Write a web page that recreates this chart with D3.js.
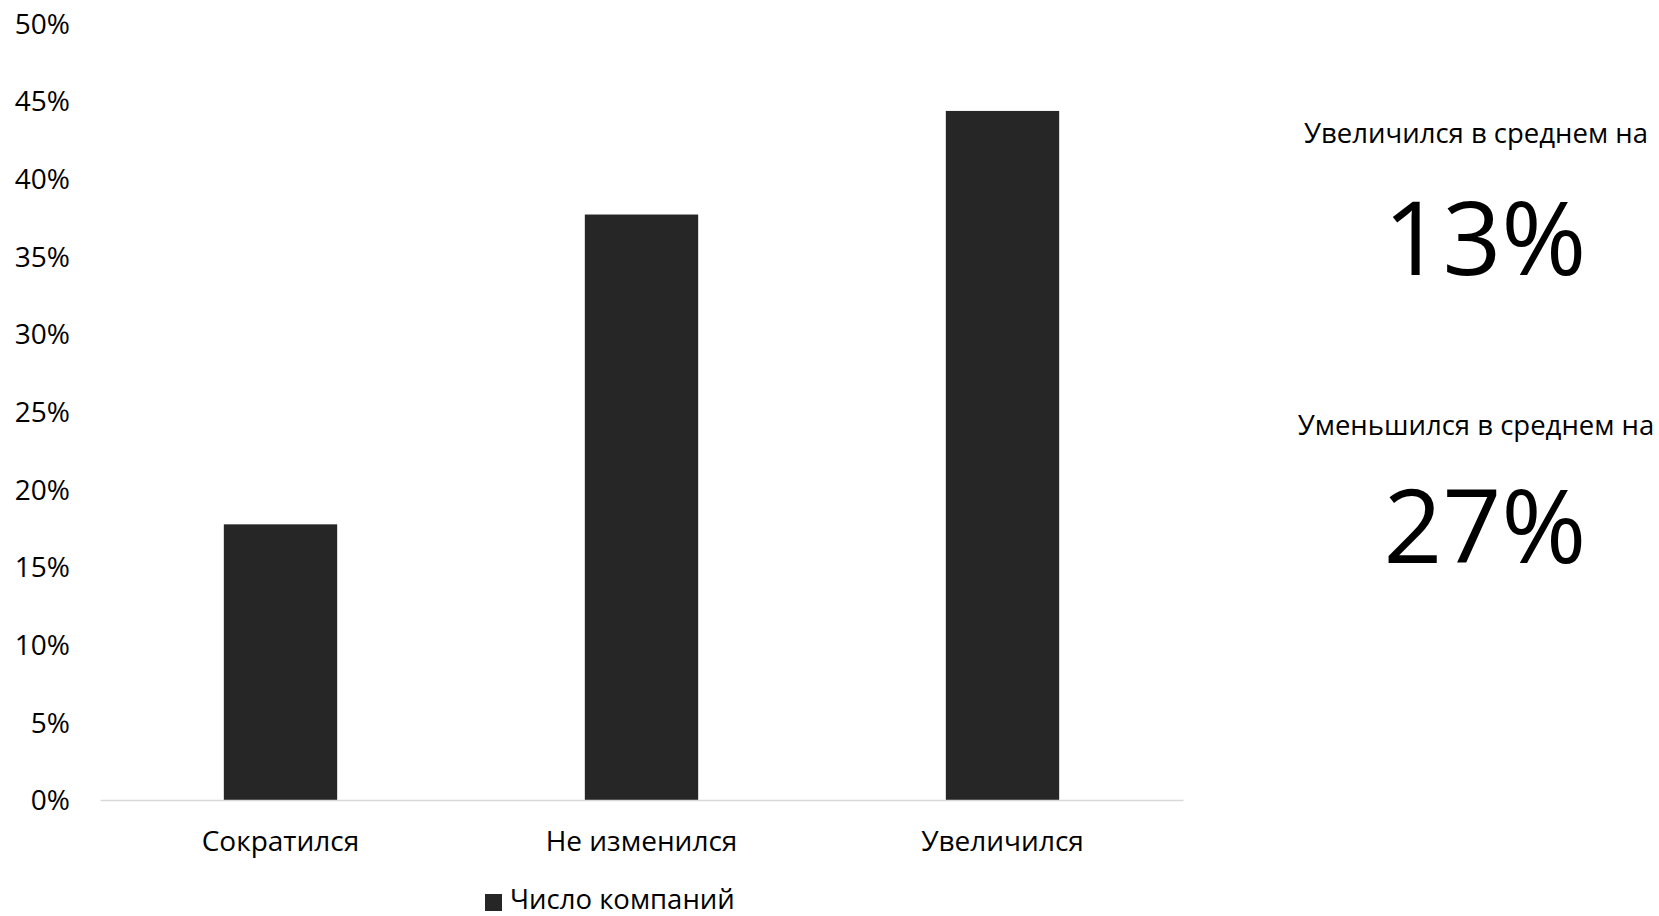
<!DOCTYPE html>
<html>
<head>
<meta charset="utf-8">
<script src="https://cdn.jsdelivr.net/npm/d3@7/dist/d3.min.js"></script>
<style>
  html, body { margin: 0; padding: 0; background: #fff; }
  svg { display: block; }
  text { font-family: "Open Sans", "Noto Sans", sans-serif; fill: #000; }
</style>
</head>
<body>
<svg id="chart" width="1659" height="916"></svg>
<script>
// Data
const categories = ["Сократился", "Не изменился", "Увеличился"];
const values = [0.1775, 0.377, 0.4437];
const seriesName = "Число компаний";
const yTicks = [0, 0.05, 0.10, 0.15, 0.20, 0.25, 0.30, 0.35, 0.40, 0.45, 0.50];
const sideLabels = ["Увеличился в среднем на", "Уменьшился в среднем на"];
const sideValues = ["13%", "27%"];

const svg = d3.select("#chart");
const barColor = "#262626";

const x = d3.scaleBand()
  .domain(categories)
  .range([100, 1183])
  .paddingInner(0.686)
  .paddingOuter(0.343);

const y = d3.scaleLinear()
  .domain([0, 0.5])
  .range([800, 23.5]);

// Y axis labels (no line, no ticks)
const yAxis = d3.axisLeft(y)
  .tickValues(yTicks)
  .tickFormat(d3.format(".0%"))
  .tickSize(0)
  .tickPadding(0);
const yg = svg.append("g").attr("transform", "translate(70,0)").call(yAxis);
yg.select(".domain").remove();
yg.selectAll("text")
  .attr("font-size", 28)
  .attr("font-family", "Open Sans")
  .attr("fill", "#000")
  .attr("dy", "0.35em");

// Bars
svg.append("g").selectAll("rect")
  .data(values)
  .join("rect")
  .attr("x", (d, i) => x(categories[i]))
  .attr("y", d => y(d))
  .attr("width", x.bandwidth())
  .attr("height", d => y(0) - y(d))
  .attr("fill", barColor);

// X axis
const xAxis = d3.axisBottom(x).tickSize(0).tickPadding(0);
const xg = svg.append("g").attr("transform", `translate(0,${y(0)})`).call(xAxis);
xg.select(".domain").attr("stroke", "#d9d9d9").attr("stroke-width", 1.5);
xg.selectAll("text")
  .attr("font-size", 28)
  .attr("font-family", "Open Sans")
  .attr("fill", "#000")
  .attr("y", 51)
  .attr("dy", 0);

// Legend
const lg = svg.append("g");
lg.append("rect").attr("x", 485).attr("y", 894).attr("width", 17).attr("height", 17).attr("fill", barColor);
lg.append("text").attr("x", 510).attr("y", 909).attr("font-size", 27.5).text(seriesName);

// Side annotations
const sideLabelY = [143, 435];
const sideValueY = [275, 563];
sideLabels.forEach((t, i) => {
  svg.append("text").attr("x", 1476).attr("y", sideLabelY[i])
    .attr("text-anchor", "middle").attr("font-size", 27.5).text(t);
  svg.append("text").attr("x", 1485).attr("y", sideValueY[i])
    .attr("text-anchor", "middle").attr("font-size", 103).text(sideValues[i]);
});
</script>
</body>
</html>
